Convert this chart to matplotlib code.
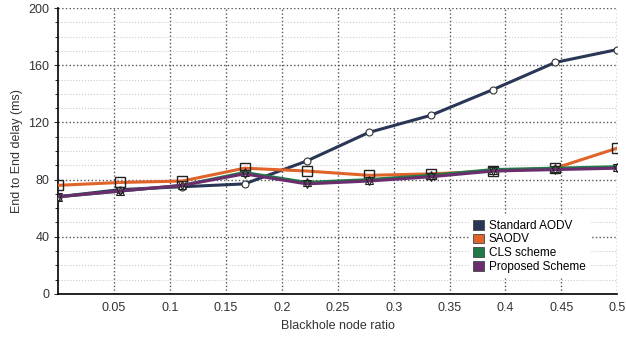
import numpy as np
import matplotlib.pyplot as plt
from matplotlib.patches import Patch
from matplotlib.ticker import MultipleLocator

ratio = [0, 1/18, 2/18, 3/18, 4/18, 5/18, 6/18, 7/18, 8/18, 9/18]
aodv = [68, 73, 75, 77, 93, 113, 125, 143, 162, 171]
saodv = [76, 78, 79, 88, 86, 83, 84, 86, 88, 102]
cls = [68, 72, 76, 85, 78, 80, 83, 87, 88, 89]
proposed = [68, 72, 76, 84, 77, 79, 82, 86, 87, 88]

names = ['Standard AODV', 'SAODV', 'CLS scheme', 'Proposed Scheme']
colors = ['#2a3656', '#e0642a', '#1f7a45', '#6a2e6e']

plt.rcParams['font.family'] = 'Liberation Sans'
fig = plt.figure(figsize=(6.26, 3.39), dpi=100)
ax = fig.add_axes([0.093, 0.133, 0.893, 0.843])

ax.plot(ratio, aodv, color=colors[0], lw=2.2, marker='o', ms=5, mfc='white', mec='#333333', mew=0.8, zorder=3)
ax.plot(ratio, saodv, color=colors[1], lw=2.2, marker='s', ms=7, mfc='none', mec='#222222', mew=1.0, zorder=4)
ax.plot(ratio, cls, color=colors[2], lw=2.2, marker='^', ms=6, mfc='none', mec='#222222', mew=0.8, zorder=4)
ax.plot(ratio, proposed, color=colors[3], lw=2.2, marker='v', ms=6, mfc='none', mec='#222222', mew=0.8, zorder=5)

ax.set_xlim(0, 0.5)
ax.set_ylim(0, 200)
ax.set_xticks([0.05, 0.1, 0.15, 0.2, 0.25, 0.3, 0.35, 0.4, 0.45, 0.5])
ax.set_xticklabels(['0.05', '0.1', '0.15', '0.2', '0.25', '0.3', '0.35', '0.4', '0.45', '0.5'])
ax.set_yticks([0, 40, 80, 120, 160, 200])
ax.yaxis.set_minor_locator(MultipleLocator(10))
ax.grid(True, which='major', color='#555555', ls=':', lw=1.0)
ax.grid(True, which='minor', axis='y', color='#cccccc', ls=':', lw=0.8)
ax.set_axisbelow(True)
for s in ['top', 'right']:
    ax.spines[s].set_visible(False)
ax.spines['left'].set_linewidth(1.2)
ax.spines['bottom'].set_linewidth(1.2)
ax.tick_params(axis='both', labelsize=9, colors='#333333', length=3)
ax.tick_params(axis='x', length=0, pad=6)
ax.tick_params(axis='y', which='minor', length=2)

ax.set_xlabel('Blackhole node ratio', fontsize=9, color='#333333')
ax.set_ylabel('End to End delay (ms)', fontsize=9, color='#333333')

handles = [Patch(facecolor=c, edgecolor='#444444', lw=0.6) for c in colors]
leg = ax.legend(handles, names, loc='lower right', bbox_to_anchor=(0.96, 0.04), fontsize=8.5,
                frameon=True, fancybox=False, framealpha=1, edgecolor='white',
                handlelength=0.9, handleheight=0.9, handletextpad=0.4, labelspacing=0.15, borderpad=0.3)

fig.savefig('out.png', dpi=100)
